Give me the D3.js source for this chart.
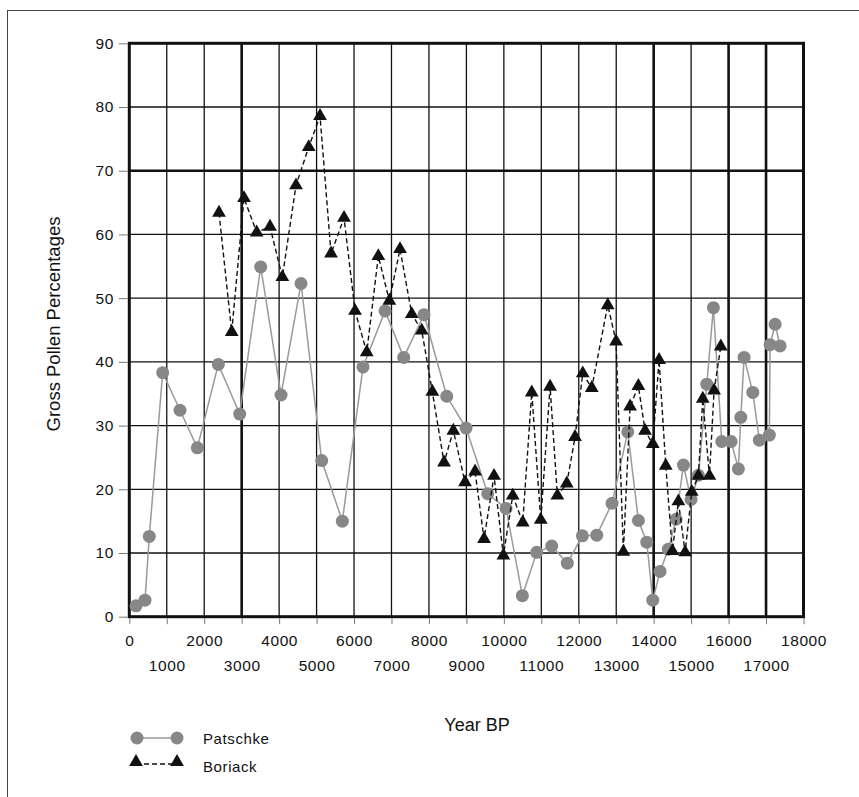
<!DOCTYPE html>
<html>
<head>
<meta charset="utf-8">
<script src="https://cdn.jsdelivr.net/npm/d3@7"></script>
<style>
  body { margin: 0; background: #fff; }
  svg text { font-family: "Liberation Sans", Arial, sans-serif; fill: #111; }
</style>
</head>
<body>
<svg id="chart" width="859" height="797"></svg>
<script>
// Values
const patschkeYears = [179, 419, 534, 891, 1354, 1816, 2377, 2948, 3509, 4051, 4585, 5137, 5688,
  6240, 6828, 7327, 7869, 8475, 8991, 9570, 10059, 10494, 10878, 11278, 11695, 12096, 12480,
  12889, 13308, 13592, 13816, 13976, 14170, 14393, 14599, 14794, 14999, 15194, 15418, 15594,
  15818, 16067, 16262, 16326, 16414, 16646, 16822, 17089, 17108, 17242, 17375]
const patschkeValues = [1.7, 2.6, 12.6, 38.3, 32.4, 26.5, 39.6, 31.8, 54.9, 34.8, 52.3, 24.5, 15.0,
  39.2, 48.0, 40.7, 47.4, 34.6, 29.6, 19.3, 17.0, 3.3, 10.1, 11.1, 8.4, 12.7, 12.8,
  17.8, 29.0, 15.1, 11.7, 2.6, 7.1, 10.6, 15.3, 23.8, 18.4, 22.2, 36.5, 48.5,
  27.5, 27.5, 23.2, 31.3, 40.7, 35.2, 27.7, 28.5, 42.7, 45.9, 42.5]

const boriackYears = [2395, 2734, 3063, 3401, 3757, 4086, 4451, 4790, 5092, 5386, 5733, 6027,
  6339, 6649, 6943, 7228, 7541, 7808, 8091, 8403, 8652, 8964, 9231, 9471, 9738, 9987, 10237,
  10504, 10745, 10985, 11234, 11429, 11680, 11901, 12107, 12347, 12774, 12996, 13191, 13370,
  13592, 13770, 13976, 14144, 14323, 14500, 14660, 14839, 15017, 15194, 15311, 15488, 15613, 15792]
const boriackValues = [63.4, 44.7, 65.7, 60.3, 61.2, 53.3, 67.7, 73.7, 78.6, 57.0, 62.6, 48.0,
  41.5, 56.6, 49.6, 57.7, 47.5, 44.9, 35.3, 24.2, 29.2, 21.1, 22.8, 12.2, 22.1, 9.6, 19.0,
  14.8, 35.2, 15.2, 36.1, 19.0, 20.9, 28.2, 38.2, 35.9, 48.9, 43.2, 10.2, 33.0,
  36.2, 29.2, 27.1, 40.3, 23.7, 10.3, 18.1, 10.1, 19.6, 22.1, 34.2, 22.1, 35.5, 42.4]

const xTicks = d3.range(0, 18001, 1000)
const yTicks = d3.range(0, 91, 10)
const thickX = [3000, 14000, 16000, 17000]
const thickY = [70]

const patschke = patschkeYears.map((yr, i) => ({ x: yr, y: patschkeValues[i] }))
const boriack = boriackYears.map((yr, i) => ({ x: yr, y: boriackValues[i] }))

const svg = d3.select("#chart")
const x = d3.scaleLinear().domain([0, 18000]).range([129.3, 803.5])
const y = d3.scaleLinear().domain([0, 90]).range([616.7, 43.3])

// outer frame, runs off the right and bottom of the picture
svg.append("rect")
  .attr("x", 7.5).attr("y", 10.5)
  .attr("width", 900).attr("height", 900)
  .attr("fill", "none").attr("stroke", "#444").attr("stroke-width", 1)

// grid
const grid = svg.append("g")
grid.selectAll("line.v")
  .data(xTicks.slice(1, -1))
  .join("line")
  .attr("x1", d => x(d)).attr("x2", d => x(d))
  .attr("y1", y(90)).attr("y2", y(0))
  .attr("stroke", "#111")
  .attr("stroke-width", d => thickX.includes(d) ? 2.6 : 1.3)
grid.selectAll("line.h")
  .data(yTicks.slice(1, -1))
  .join("line")
  .attr("x1", x(0)).attr("x2", x(18000))
  .attr("y1", d => y(d)).attr("y2", d => y(d))
  .attr("stroke", "#111")
  .attr("stroke-width", d => thickY.includes(d) ? 2.6 : 1.3)

// plot border
svg.append("rect")
  .attr("x", x(0)).attr("y", y(90))
  .attr("width", x(18000) - x(0)).attr("height", y(0) - y(90))
  .attr("fill", "none").attr("stroke", "#111").attr("stroke-width", 3)

// axes
const yAxis = svg.append("g")
  .attr("transform", `translate(${x(0) - 1.5},0)`)
  .call(d3.axisLeft(y).tickValues(yTicks).tickSize(9).tickPadding(5))
yAxis.select(".domain").remove()
yAxis.selectAll(".tick line").attr("stroke", "#777")
yAxis.selectAll(".tick text")
  .attr("font-size", 15.5).attr("font-family", "Liberation Sans").attr("letter-spacing", 0.5)

const xAxis = svg.append("g")
  .attr("transform", `translate(0,${y(0) + 1.5})`)
  .call(d3.axisBottom(x).tickValues(xTicks).tickSize(6).tickFormat(d3.format("d")))
xAxis.select(".domain").remove()
xAxis.selectAll(".tick line").attr("stroke", "#777")
xAxis.selectAll(".tick text")
  .attr("font-size", 15.5).attr("font-family", "Liberation Sans").attr("letter-spacing", 0.6)
  .attr("dy", null)
  .attr("y", (d, i) => i % 2 === 0 ? 27.5 : 52.5)

// axis titles
svg.append("text")
  .attr("transform", "translate(60,324) rotate(-90)")
  .attr("text-anchor", "middle")
  .attr("font-size", 18.5)
  .text("Gross Pollen Percentages")

svg.append("text")
  .attr("x", 477).attr("y", 731)
  .attr("text-anchor", "middle")
  .attr("font-size", 18)
  .text("Year BP")

// series
const line = d3.line().x(d => x(d.x)).y(d => y(d.y))
const triangle = d3.symbol().type(d3.symbolTriangle).size(82)

svg.append("path")
  .datum(patschke)
  .attr("d", line)
  .attr("fill", "none").attr("stroke", "#9a9a9a").attr("stroke-width", 1.5)
svg.append("g").selectAll("circle")
  .data(patschke)
  .join("circle")
  .attr("cx", d => x(d.x)).attr("cy", d => y(d.y))
  .attr("r", 6.5).attr("fill", "#878787")

svg.append("path")
  .datum(boriack)
  .attr("d", line)
  .attr("fill", "none").attr("stroke", "#111").attr("stroke-width", 1.4)
  .attr("stroke-dasharray", "5,3")
svg.append("g").selectAll("path")
  .data(boriack)
  .join("path")
  .attr("d", triangle)
  .attr("transform", d => `translate(${x(d.x)},${y(d.y)})`)
  .attr("fill", "#111")

// legend
const legend = svg.append("g")
legend.append("line")
  .attr("x1", 137).attr("x2", 177).attr("y1", 738).attr("y2", 738)
  .attr("stroke", "#9a9a9a").attr("stroke-width", 1.5)
legend.selectAll("circle")
  .data([137, 177])
  .join("circle")
  .attr("cx", d => d).attr("cy", 738).attr("r", 6.5).attr("fill", "#878787")
legend.append("text")
  .attr("x", 203).attr("y", 743.5).attr("font-size", 15).attr("letter-spacing", 0.6)
  .text("Patschke")

legend.append("line")
  .attr("x1", 136).attr("x2", 177).attr("y1", 764).attr("y2", 764)
  .attr("stroke", "#111").attr("stroke-width", 1.4).attr("stroke-dasharray", "5,3")
legend.selectAll("path.tri")
  .data([136, 177])
  .join("path")
  .attr("class", "tri")
  .attr("d", triangle)
  .attr("transform", d => `translate(${d},762)`)
  .attr("fill", "#111")
legend.append("text")
  .attr("x", 203).attr("y", 771.5).attr("font-size", 15).attr("letter-spacing", 0.6)
  .text("Boriack")
</script>
</body>
</html>
